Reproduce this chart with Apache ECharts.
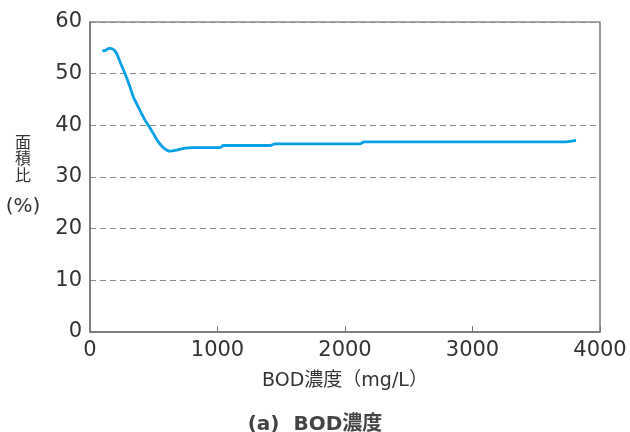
<!DOCTYPE html>
<html>
<head>
<meta charset="utf-8">
<script src="https://cdn.jsdelivr.net/npm/echarts@6/dist/echarts.min.js"></script>
<style>html,body{margin:0;padding:0;background:#fff}#c{width:630px;height:432px}</style>
</head>
<body>
<div id="c"></div>
<script>
const bodConc = [97, 123, 149, 183, 209, 235, 275, 314, 340, 392, 431, 463, 497, 536, 575, 627, 680, 745, 797, 1020, 1046, 1412, 1451, 2118, 2150, 3710, 3812];
const areaRatio = [54.4, 54.5, 54.9, 54.7, 53.9, 52.3, 50.0, 47.4, 45.5, 42.9, 41.0, 39.8, 38.4, 36.8, 35.7, 35.0, 35.2, 35.6, 35.7, 35.7, 36.1, 36.1, 36.4, 36.4, 36.8, 36.8, 37.1];
const xTicks = [0, 1000, 2000, 3000, 4000];
const yTicks = [0, 10, 20, 30, 40, 50, 60];
const xAxisName = 'BOD濃度（mg/L）';
const yAxisName = '{a|面\n積\n比}\n{b|(%)}';
const titleText = '(a)  BOD濃度';

const latinCjk = '"DejaVu Sans", "Noto Sans CJK JP"';
const chart = echarts.init(document.getElementById('c'));
chart.setOption({
  animation: false,
  title: {
    text: titleText, left: 'center', top: 410,
    textStyle: { fontFamily: latinCjk, fontSize: 20, fontWeight: 'bold', color: '#444' }
  },
  grid: { left: 90, right: 30, top: 22, bottom: 100, show: true, borderColor: '#555', borderWidth: 1.2 },
  xAxis: {
    type: 'value', min: xTicks[0], max: xTicks[xTicks.length - 1], interval: 1000,
    name: xAxisName, nameLocation: 'middle', nameGap: 40,
    nameTextStyle: { fontFamily: latinCjk, fontSize: 19, color: '#333' },
    axisLine: { lineStyle: { color: '#777', width: 1.5 } },
    axisTick: { inside: true, length: 6, lineStyle: { color: '#777' } },
    axisLabel: { fontFamily: 'DejaVu Sans', fontSize: 21, color: '#333', margin: 8, formatter: v => String(v) },
    splitLine: { show: false }
  },
  yAxis: {
    type: 'value', min: yTicks[0], max: yTicks[yTicks.length - 1], interval: 10,
    name: yAxisName, nameLocation: 'middle', nameRotate: 0, nameGap: 67,
    nameTextStyle: {
      align: 'center', color: '#333', padding: [10, 0, 0, 0],
      rich: {
        a: { fontFamily: '"Noto Sans CJK JP"', fontSize: 16, lineHeight: 16.5, color: '#333', align: 'center' },
        b: { fontFamily: 'DejaVu Sans', fontSize: 20, lineHeight: 48, color: '#333', align: 'center' }
      }
    },
    axisLine: { show: true, lineStyle: { color: '#777', width: 1.5 } },
    axisTick: { show: false },
    axisLabel: { fontFamily: 'DejaVu Sans', fontSize: 21, color: '#333', margin: 8 },
    splitLine: { show: true, lineStyle: { color: '#888', type: [6, 4], width: 1 } }
  },
  series: [{
    type: 'line',
    data: bodConc.map((x, i) => [x, areaRatio[i]]),
    showSymbol: false,
    smooth: 0.3,
    lineStyle: { color: '#06a0e6', width: 2.8 },
    itemStyle: { color: '#06a0e6' }
  }]
});
</script>
</body>
</html>
